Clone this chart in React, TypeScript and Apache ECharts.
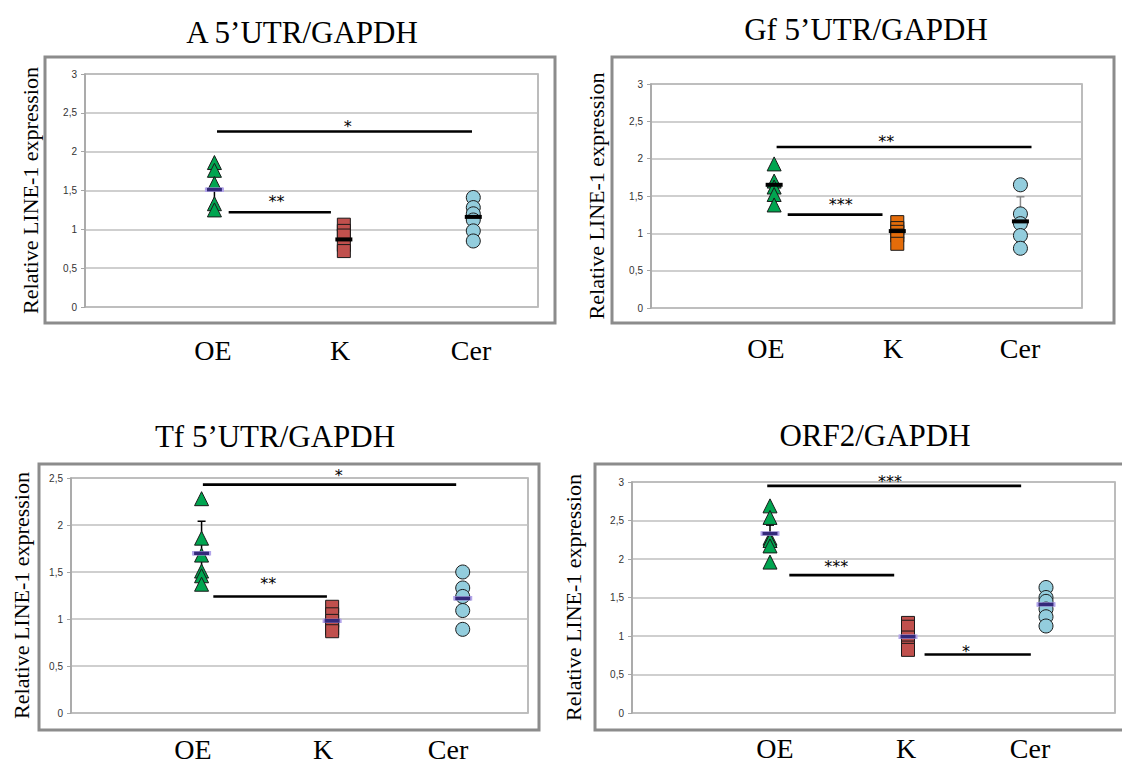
import React, { useEffect, useRef } from "react";
import * as echarts from "echarts";

// ---------- data ----------
const groups = ["OE", "K", "Cer"];
const titles = ["A 5’UTR/GAPDH", "Gf 5’UTR/GAPDH", "Tf 5’UTR/GAPDH", "ORF2/GAPDH"];
const yAxisTitle = "Relative LINE-1 expression";
const yMax = [3, 3, 2.5, 3];
const yStep = 0.5;

// A 5'UTR
const aOE = [1.86, 1.76, 1.59, 1.33, 1.25];
const aK = [1.06, 0.98, 0.92, 0.8, 0.72];
const aCer = [1.41, 1.28, 1.2, 1.12, 0.98, 0.85];
const aMean = [1.51, 0.87, 1.16];
const aErrLow = [1.29, 0.78, 1.06];
const aErrHigh = [1.69, 0.96, 1.26];
const aCap = [0, 0, 0];
const aSig = [
  [1.02, 2.99, 2.26, 2.03, 2.38],
  [1.11, 1.9, 1.22, 1.48, 1.41],
];
const aSigText = ["*", "**"];

// Gf 5'UTR
const gOE = [1.93, 1.7, 1.62, 1.52, 1.38];
const gK = [1.15, 1.07, 1.02, 0.97, 0.86];
const gCer = [1.65, 1.26, 1.13, 0.97, 0.8];
const gMean = [1.65, 1.03, 1.16];
const gErrLow = [1.55, 0.95, 1.16];
const gErrHigh = [1.76, 1.1, 1.49];
const gCap = [0, 0, 1];
const gSig = [
  [1.02, 3.09, 2.157, 1.91, 2.28],
  [1.11, 1.88, 1.25, 1.54, 1.44],
];
const gSigText = ["**", "***"];

// Tf 5'UTR
const tOE = [2.28, 1.86, 1.68, 1.51, 1.46, 1.37];
const tK = [1.13, 1.05, 0.98, 0.9, 0.87];
const tCer = [1.5, 1.33, 1.24, 1.09, 0.89];
const tMean = [1.7, 0.98, 1.22];
const tErrLow = [1.4, 0.9, 1.1];
const tErrHigh = [2.04, 1.06, 1.34];
const tCap = [1, 0, 0];
const tSig = [
  [1.01, 2.95, 2.43, 2.05, 2.57],
  [1.09, 1.96, 1.24, 1.51, 1.42],
];
const tSigText = ["*", "**"];

// ORF2
const oOE = [2.69, 2.54, 2.27, 2.24, 2.17, 1.96];
const oK = [1.17, 1.12, 0.98, 0.85, 0.82];
const oCer = [1.63, 1.5, 1.45, 1.35, 1.25, 1.13];
const oMean = [2.33, 0.99, 1.41];
const oErrLow = [2.22, 0.9, 1.33];
const oErrHigh = [2.44, 1.08, 1.49];
const oCap = [1, 0, 0];
const oSig = [
  [0.98, 2.82, 2.95, 1.87, 3.06],
  [1.14, 1.9, 1.79, 1.48, 1.96],
  [2.12, 2.89, 0.76, 2.42, 0.85],
];
const oSigText = ["***", "***", "*"];

// ---------- layout / styles ----------
const panels = [
  {
    oe: aOE, k: aK, cer: aCer, mean: aMean, lo: aErrLow, hi: aErrHigh, cap: aCap, sig: aSig, sigText: aSigText,
    grid: { left: 85, top: 74, width: 453, height: 233 },
    box: [45, 57, 510, 266], nameX: 30,
    kColor: "#C0504D", meanPurple: [true, false, false], errColor: "#000",
    title: { x: 297, y: 12 }, labels: [[213, 350], [340, 350], [471, 350]],
  },
  {
    oe: gOE, k: gK, cer: gCer, mean: gMean, lo: gErrLow, hi: gErrHigh, cap: gCap, sig: gSig, sigText: gSigText,
    grid: { left: 651, top: 84, width: 431, height: 224 },
    box: [612, 57, 502, 266], nameX: 596,
    kColor: "#E46C0A", meanPurple: [false, false, false], errColor: "#8a8a8a",
    title: { x: 861, y: 9 }, labels: [[766, 348], [893, 348], [1020, 348]],
  },
  {
    oe: tOE, k: tK, cer: tCer, mean: tMean, lo: tErrLow, hi: tErrHigh, cap: tCap, sig: tSig, sigText: tSigText,
    grid: { left: 71, top: 478, width: 457, height: 235 },
    box: [39, 464, 500, 266], nameX: 21,
    kColor: "#C0504D", meanPurple: [true, true, true], errColor: "#000",
    title: { x: 270, y: 416 }, labels: [[193, 749], [323, 749], [448, 749]],
  },
  {
    oe: oOE, k: oK, cer: oCer, mean: oMean, lo: oErrLow, hi: oErrHigh, cap: oCap, sig: oSig, sigText: oSigText,
    grid: { left: 632, top: 482, width: 483, height: 231 },
    box: [595, 464, 540, 266], nameX: 573,
    kColor: "#C0504D", meanPurple: [true, true, true], errColor: "#000",
    title: { x: 870, y: 415 }, labels: [[775, 748], [906, 748], [1030, 748]],
  },
];

const SERIF = "Liberation Serif";
const SANS = "Liberation Sans";
const STAR = "DejaVu Sans";

function buildOption() {
  const grid: any[] = [];
  const xAxis: any[] = [];
  const yAxis: any[] = [];
  const series: any[] = [];
  const title: any[] = [];
  const graphic: any[] = [];

  panels.forEach((p, i) => {
    grid.push({ ...p.grid, show: true, borderColor: "#A6A6A6", borderWidth: 1.5, backgroundColor: "transparent" });
    xAxis.push({
      gridIndex: i, type: "value", min: 0, max: 3.5,
      axisLine: { show: false }, axisTick: { show: false }, axisLabel: { show: false }, splitLine: { show: false },
    });
    yAxis.push({
      gridIndex: i, type: "value", min: 0, max: yMax[i], interval: yStep,
      axisLine: { show: true, lineStyle: { color: "#A6A6A6", width: 1.5 } },
      axisTick: { show: true, length: 4, lineStyle: { color: "#A6A6A6", width: 1 } },
      axisLabel: {
        fontSize: 10, color: "#333", fontFamily: SANS, margin: 8,
        formatter: (v: number) => String(v).replace(".", ","),
      },
      splitLine: { show: true, lineStyle: { color: "#BFBFBF", width: 1.5 } },
    });
    title.push({
      text: titles[i], left: p.title.x, top: p.title.y, textAlign: "center",
      textStyle: { fontFamily: SERIF, fontSize: 31, fontWeight: "normal", color: "#000" },
    });
    graphic.push({
      type: "rect", shape: { x: p.box[0], y: p.box[1], width: p.box[2], height: p.box[3] },
      style: { fill: "none", stroke: "#8C8C8C", lineWidth: 3 }, z: 1,
    });
    // y-axis title (rotated), centred on the plot area
    graphic.push({
      type: "text", x: p.nameX, y: p.grid.top + p.grid.height / 2, rotation: Math.PI / 2,
      style: { text: yAxisTitle, fontFamily: SERIF, fontSize: 22, fill: "#000", align: "center", verticalAlign: "middle" },
    });
    groups.forEach((g, gi) => {
      graphic.push({
        type: "text", x: p.labels[gi][0], y: p.labels[gi][1],
        style: { text: g, fontFamily: SERIF, fontSize: 28, fill: "#000", align: "center", verticalAlign: "middle" },
      });
    });

    // error bars
    series.push({
      type: "custom", xAxisIndex: i, yAxisIndex: i, z: 2, clip: false,
      data: groups.map((_, gi) => [gi + 1, p.lo[gi], p.hi[gi], p.cap[gi]]),
      renderItem: (params: any, api: any) => {
        const x = api.value(0);
        const a = api.coord([x, api.value(1)]);
        const b = api.coord([x, api.value(2)]);
        const children: any[] = [
          { type: "line", shape: { x1: a[0], y1: a[1], x2: b[0], y2: b[1] }, style: { stroke: p.errColor, lineWidth: 1.5 } },
        ];
        if (api.value(3)) {
          children.push({ type: "line", shape: { x1: b[0] - 4, y1: b[1], x2: b[0] + 4, y2: b[1] }, style: { stroke: p.errColor, lineWidth: 1.5 } });
        }
        return { type: "group", children };
      },
    });
    // points
    series.push({
      type: "scatter", xAxisIndex: i, yAxisIndex: i, z: 3, symbol: "triangle", symbolSize: 14,
      itemStyle: { color: "#00A550", borderColor: "#1a1a1a", borderWidth: 1, opacity: 1 },
      data: p.oe.map((v) => [1, v]),
    });
    series.push({
      type: "scatter", xAxisIndex: i, yAxisIndex: i, z: 3, symbol: "rect", symbolSize: [13, 13],
      itemStyle: { color: p.kColor, borderColor: "#1a1a1a", borderWidth: 1, opacity: 1 },
      data: p.k.map((v) => [2, v]),
    });
    series.push({
      type: "scatter", xAxisIndex: i, yAxisIndex: i, z: 3, symbol: "circle", symbolSize: 14,
      itemStyle: { color: "#93CDDD", borderColor: "#1a1a1a", borderWidth: 1, opacity: 1 },
      data: p.cer.map((v) => [3, v]),
    });
    // means
    series.push({
      type: "scatter", xAxisIndex: i, yAxisIndex: i, z: 5, symbol: "rect", symbolSize: [17, 4],
      data: p.mean.map((v, gi) => ({
        value: [gi + 1, v],
        itemStyle: p.meanPurple[gi]
          ? { color: "#34297a", borderColor: "#b3a5ea", borderWidth: 1, opacity: 1 }
          : { color: "#000", borderColor: "#000", borderWidth: 0, opacity: 1 },
      })),
    });
    // significance bars + stars
    series.push({
      type: "custom", xAxisIndex: i, yAxisIndex: i, z: 6, clip: false,
      data: p.sig,
      renderItem: (params: any, api: any) => {
        const a = api.coord([api.value(0), api.value(2)]);
        const b = api.coord([api.value(1), api.value(2)]);
        const t = api.coord([api.value(3), api.value(4)]);
        return {
          type: "group",
          children: [
            { type: "line", shape: { x1: a[0], y1: a[1], x2: b[0], y2: b[1] }, style: { stroke: "#000", lineWidth: 2.6 } },
            {
              type: "text", x: t[0], y: t[1] + 4,
              style: { text: p.sigText[params.dataIndex], fontFamily: STAR, fontSize: 16, fill: "#000", align: "center", verticalAlign: "middle" },
            },
          ],
        };
      },
    });
  });

  return { animation: false, backgroundColor: "#fff", title, grid, xAxis, yAxis, series, graphic };
}

export default function App() {
  const ref = useRef<HTMLDivElement>(null);
  useEffect(() => {
    if (!ref.current) return;
    const chart = echarts.init(ref.current, undefined, { renderer: "svg" });
    chart.setOption(buildOption() as any);
    return () => chart.dispose();
  }, []);
  return <div ref={ref} style={{ position: "absolute", left: 0, top: 0, width: 1122, height: 767 }} />;
}
